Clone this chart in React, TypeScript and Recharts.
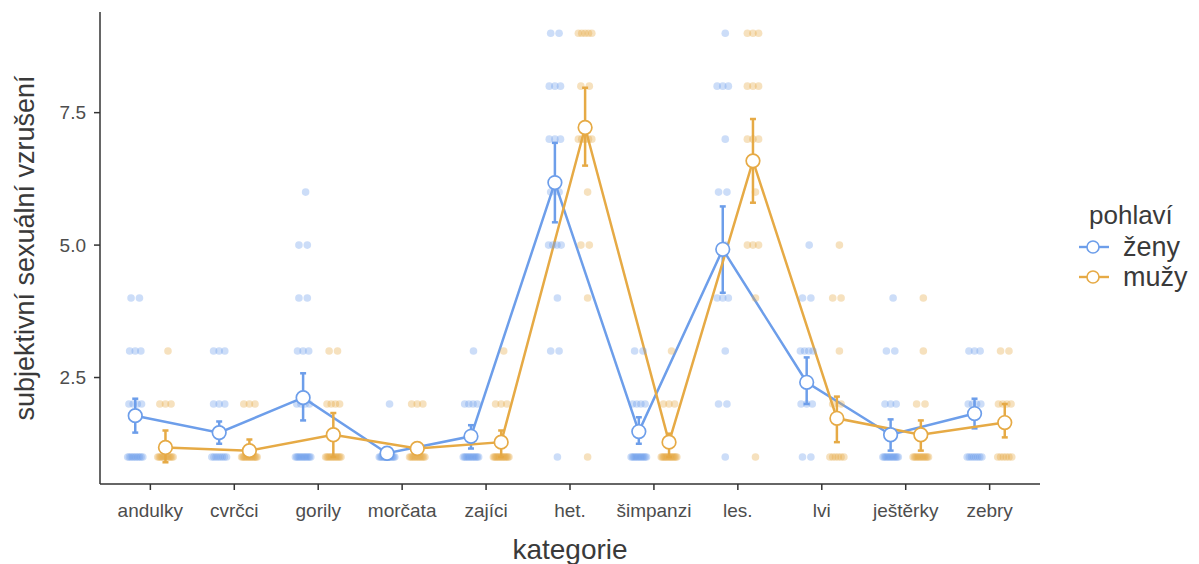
import { ComposedChart, Line, Scatter, XAxis, YAxis, ErrorBar } from 'recharts';

const categories = ['andulky', 'cvrčci', 'gorily', 'morčata', 'zajíci', 'het.', 'šimpanzi', 'les.', 'lvi', 'ještěrky', 'zebry'];

// group means with confidence limits
const zenyMean = [1.78, 1.46, 2.12, 1.07, 1.39, 6.18, 1.48, 4.92, 2.41, 1.42, 1.82];
const zenyLo = [1.46, 1.25, 1.69, 1.0, 1.16, 5.43, 1.25, 4.1, 2.0, 1.12, 1.54];
const zenyHi = [2.1, 1.67, 2.58, 1.15, 1.6, 6.93, 1.75, 5.73, 2.88, 1.71, 2.1];
const muziMean = [1.18, 1.12, 1.42, 1.16, 1.28, 7.22, 1.28, 6.59, 1.73, 1.42, 1.65];
const muziLo = [0.9, 1.03, 1.0, 1.1, 1.0, 6.5, 1.0, 5.8, 1.28, 1.12, 1.37];
const muziHi = [1.5, 1.33, 1.83, 1.22, 1.5, 7.97, 1.44, 7.38, 2.14, 1.69, 2.0];

// raw answers: [value, count] per category
const zenyRaw = [
  [[1, 10], [2, 4], [3, 3], [4, 2]],
  [[1, 8], [2, 3], [3, 3]],
  [[1, 12], [2, 4], [3, 3], [4, 2], [5, 2], [6, 1]],
  [[1, 14], [2, 1]],
  [[1, 12], [2, 4], [3, 1]],
  [[1, 1], [3, 2], [4, 1], [5, 4], [6, 2], [7, 3], [8, 3], [9, 2]],
  [[1, 12], [2, 4], [3, 2]],
  [[1, 1], [2, 2], [3, 1], [4, 3], [5, 1], [6, 2], [7, 1], [8, 3], [9, 1]],
  [[1, 2], [2, 3], [3, 4], [4, 2], [5, 1]],
  [[1, 12], [2, 3], [3, 2], [4, 1]],
  [[1, 8], [2, 4], [3, 3]],
];
const muziRaw = [
  [[1, 12], [2, 3], [3, 1]],
  [[1, 14], [2, 3]],
  [[1, 12], [2, 4], [3, 2]],
  [[1, 12], [2, 3]],
  [[1, 14], [2, 3], [3, 1]],
  [[1, 1], [4, 1], [5, 2], [6, 1], [7, 5], [8, 2], [9, 5]],
  [[1, 14], [2, 3], [3, 1]],
  [[1, 1], [4, 1], [5, 3], [6, 1], [7, 3], [8, 3], [9, 3]],
  [[1, 6], [2, 2], [3, 1], [4, 2], [5, 1]],
  [[1, 12], [2, 2], [3, 1], [4, 1]],
  [[1, 6], [2, 4], [3, 2]],
];

const BLUE = '#6d9eea';
const GOLD = '#e6aa45';
const DODGE = 0.18;

const meanData = (mean: number[], lo: number[], hi: number[], shift: number) =>
  mean.map((m, i) => ({ x: i + shift, y: m, err: [m - lo[i], hi[i] - m] }));

const rawData = (raw: number[][][], shift: number) => {
  const out: { x: number; y: number }[] = [];
  raw.forEach((groups, i) => {
    groups.forEach(([v, n]) => {
      for (let k = 0; k < n; k++) {
        const off = n === 1 ? 0.03 : -0.1 + (0.2 * (k + 0.5)) / n;
        out.push({ x: i + shift + off, y: v });
      }
    });
  });
  return out;
};

const zenyPts = rawData(zenyRaw, -DODGE);
const muziPts = rawData(muziRaw, DODGE);
const zenyMeans = meanData(zenyMean, zenyLo, zenyHi, -DODGE);
const muziMeans = meanData(muziMean, muziLo, muziHi, DODGE);

const dotShape = (color: string) => (props: any) => (
  <circle key={`d-${props.index}`} cx={props.cx} cy={props.cy} r={6.8} fill="#fff" stroke={color} strokeWidth={1.7} />
);
const rawShape = (color: string) => (props: any) => (
  <circle cx={props.cx} cy={props.cy} r={3.8} fill={color} fillOpacity={0.35} />
);

const FONT = '"Liberation Sans", Arial, sans-serif';

function LegendKey({ color }: { color: string }) {
  return (
    <svg width={34} height={20} style={{ display: 'block' }}>
      <line x1={2} y1={10} x2={32} y2={10} stroke={color} strokeWidth={2.4} />
      <circle cx={16} cy={10} r={6} fill="#fff" stroke={color} strokeWidth={1.6} />
    </svg>
  );
}

export default function App() {
  return (
    <div style={{ position: 'absolute', left: 0, top: 0, width: 1199, height: 564, background: '#fff', fontFamily: FONT }}>
      <ComposedChart width={1199} height={564} margin={{ top: 12, right: 159, bottom: 20, left: 40 }}>
        <XAxis
          type="number"
          dataKey="x"
          domain={[-0.6, 10.6]}
          ticks={[0, 1, 2, 3, 4, 5, 6, 7, 8, 9, 10]}
          interval={0}
          allowDataOverflow
          tickFormatter={(v: number) => categories[v]}
          height={60}
          stroke="#333"
          strokeWidth={1.5}
          tickSize={6}
          tickMargin={14}
          tick={{ fill: '#4d4d4d', fontSize: 19, fontFamily: FONT }}
        />
        <YAxis
          type="number"
          dataKey="y"
          domain={[0.49, 9.4]}
          ticks={[2.5, 5, 7.5]}
          allowDataOverflow
          tickFormatter={(v: number) => v.toFixed(1)}
          width={60}
          stroke="#333"
          strokeWidth={1.5}
          tickSize={6}
          tickMargin={8}
          tick={{ fill: '#4d4d4d', fontSize: 19, fontFamily: FONT }}
        />
        <Scatter data={zenyPts} shape={rawShape(BLUE)} isAnimationActive={false} />
        <Scatter data={muziPts} shape={rawShape(GOLD)} isAnimationActive={false} />
        <Line
          data={zenyMeans}
          dataKey="y"
          type="linear"
          stroke={BLUE}
          strokeWidth={2.5}
          dot={dotShape(BLUE)}
          activeDot={false}
          isAnimationActive={false}
        >
          <ErrorBar dataKey="err" direction="y" width={3} stroke={BLUE} strokeWidth={2.5} />
        </Line>
        <Line
          data={muziMeans}
          dataKey="y"
          type="linear"
          stroke={GOLD}
          strokeWidth={2.5}
          dot={dotShape(GOLD)}
          activeDot={false}
          isAnimationActive={false}
        >
          <ErrorBar dataKey="err" direction="y" width={3} stroke={GOLD} strokeWidth={2.5} />
        </Line>
      </ComposedChart>

      <div
        style={{
          position: 'absolute',
          left: 25,
          top: 248,
          transform: 'translate(-50%, -50%) rotate(-90deg)',
          whiteSpace: 'nowrap',
          fontSize: 27,
          color: '#3a3a3a',
        }}
      >
        subjektivní sexuální vzrušení
      </div>
      <div
        style={{
          position: 'absolute',
          left: 570,
          top: 550,
          transform: 'translate(-50%, -50%)',
          whiteSpace: 'nowrap',
          fontSize: 28,
          color: '#3a3a3a',
        }}
      >
        kategorie
      </div>

      <div style={{ position: 'absolute', left: 1089, top: 198, color: '#3a3a3a' }}>
        <div style={{ fontSize: 26, lineHeight: '34px' }}>pohlaví</div>
        {[
          { name: 'ženy', color: BLUE },
          { name: 'mužy', color: GOLD },
        ].map((it) => (
          <div key={it.name} style={{ display: 'flex', alignItems: 'center', height: 30, marginLeft: -12 }}>
            <LegendKey color={it.color} />
            <span style={{ fontSize: 27, marginLeft: 12, lineHeight: '30px' }}>{it.name}</span>
          </div>
        ))}
      </div>
    </div>
  );
}
